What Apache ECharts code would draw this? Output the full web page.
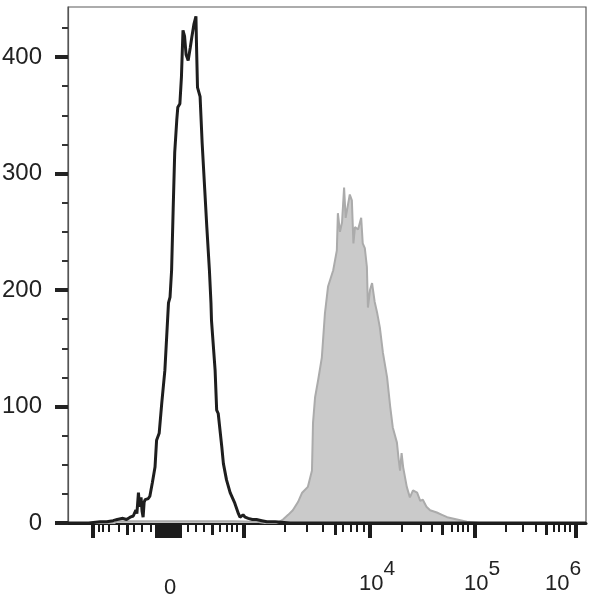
<!DOCTYPE html>
<html>
<head>
<meta charset="utf-8">
<script src="https://cdn.jsdelivr.net/npm/echarts@6/dist/echarts.min.js"></script>
<style>html,body{margin:0;padding:0;background:#fff}#c{width:593px;height:600px}</style>
</head>
<body>
<div id="c"></div>
<script>
// Display channel scale (0..1000) of a biexponential axis
var xMin = 0, xMax = 1000;
var yMin = 0, yMax = 443;

// Control (black, open) histogram: [channel, count]
var controlHist = [[0,0],[40,0],[62,1],[75,1],[87,2],[95,3],[106,4],[113,3],[120,5],[126,6],[131,11],[133,8],[136,26],[138,14],[139,17],[141,22],[143,10],[145,5],[147,18],[149,20],[155,21],[158,23],[163,35],[168,48],[171,71],[176,77],[181,103],[187,131],[194,189],[197,194],[200,217],[203,269],[206,318],[210,346],[212,357],[216,360],[219,383],[222,423],[225,418],[228,402],[232,397],[236,408],[239,417],[243,428],[247,435],[248,412],[250,374],[255,366],[259,326],[264,286],[268,254],[273,217],[276,189],[277,174],[284,131],[287,97],[290,94],[297,65],[300,51],[306,37],[313,26],[322,17],[329,8],[332,5],[338,7],[342,5],[348,4],[356,3],[364,3],[374,2],[384,1],[400,1],[429,0],[1000,0]];

// Stained (grey, filled) histogram: [channel, count]
var stainedHist = [[0,0],[90,0],[95,1.5],[150,1.5],[200,1.5],[260,1.5],[320,1.5],[365,1],[380,0],[402,0],[408,1],[415,3],[425,7],[434,11],[444,18],[452,26],[463,31],[471,45],[473,86],[477,108],[483,123],[490,142],[496,180],[502,203],[512,217],[519,234],[521,266],[525,250],[529,258],[533,288],[536,262],[539,263],[544,282],[548,277],[551,240],[554,254],[560,252],[566,262],[569,240],[573,236],[577,220],[579,185],[583,200],[587,206],[592,190],[597,180],[602,168],[608,146],[616,125],[622,100],[627,82],[635,69],[638,56],[641,45],[644,60],[647,48],[654,31],[660,22],[666,28],[674,26],[680,19],[685,20],[692,14],[699,11],[712,9],[722,7],[732,5],[751,3],[770,1],[795,0],[1000,0]];

// Axis ticks (channel positions) and labels
var yMajorTicks = [0,100,200,300,400];
var yMinorTicks = [25,50,75,125,150,175,225,250,275,325,350,375,425];
var xLongTicks = [47,172,177.5,183,189,195,201,206.5,212,216,340,583,786,981];
var xMediumTicks = [114,278,515,722,923];
var xShortTicks = [59,68,79,97.5,127,143,160,232,247,262,293,307,317,326,419,461,492,531,546,558,571,645,681.5,703,741,753,763,772,846,878,903.5,938,948,959.5,969];
var xLabelValues = [197,583,786,981];
var xLabelTexts = ['{z|0}','{b|10}{s|4}','{b|10}{s|5}','{c|10}{t|6}'];

var chart = echarts.init(document.getElementById('c'), null, {renderer:'canvas'});
var font = 'Liberation Sans, Arial, Helvetica, sans-serif';

function xAxisTicks(vals, len, w, extra) {
  var a = {
    type:'value', min:xMin, max:xMax, position:'bottom', offset:0,
    axisLine:{show:false}, splitLine:{show:false},
    axisLabel:{show:false},
    axisTick:{show:true, customValues:vals, length:len, lineStyle:{color:'#1c1c1c', width:w}}
  };
  if (extra) Object.assign(a, extra);
  return a;
}

var option = {
  animation:false,
  backgroundColor:'#fff',
  grid:{left:68, right:7, top:7, bottom:77, outerBoundsMode:'none', containLabel:false,
    show:true, borderColor:'#5a5a5a', borderWidth:1.2, backgroundColor:'transparent'},
  xAxis:[
    xAxisTicks(xLongTicks, 15, 4, {
      axisLine:{show:true, onZero:false, lineStyle:{color:'#1c1c1c', width:3}},
      axisLabel:{show:true, customValues:xLabelValues, margin:50,
        formatter:function(v){ var i = xLabelValues.indexOf(v); return i>=0 ? xLabelTexts[i] : ''; },
        rich:{
          z:{fontFamily:font, fontSize:22, color:'#222', lineHeight:22, padding:[8,0,0,0]},
          b:{fontFamily:font, fontSize:22, color:'#222', lineHeight:22, verticalAlign:'bottom', padding:[0,0,0,14]},
          s:{fontFamily:font, fontSize:21, color:'#222', lineHeight:21, verticalAlign:'bottom', padding:[0,0,15,0]},
          c:{fontFamily:font, fontSize:22, color:'#222', lineHeight:22, verticalAlign:'bottom'},
          t:{fontFamily:font, fontSize:21, color:'#222', lineHeight:21, verticalAlign:'bottom', padding:[0,26,15,0]}
        }
      }
    }),
    xAxisTicks(xMediumTicks, 12, 3),
    xAxisTicks(xShortTicks, 9, 2)
  ],
  yAxis:[
    {type:'value', min:yMin, max:yMax, position:'left',
      axisLine:{show:true, lineStyle:{color:'#555', width:1.2}},
      splitLine:{show:false},
      axisTick:{show:true, customValues:yMajorTicks, length:13, lineStyle:{color:'#222', width:4}},
      axisLabel:{show:true, customValues:yMajorTicks, margin:26, fontFamily:font, fontSize:24, color:'#222'}
    },
    {type:'value', min:yMin, max:yMax, position:'left',
      axisLine:{show:false}, splitLine:{show:false}, axisLabel:{show:false},
      axisTick:{show:true, customValues:yMinorTicks, length:6, lineStyle:{color:'#333', width:2}}
    }
  ],
  series:[
    {type:'line', name:'stained', xAxisIndex:0, yAxisIndex:0, data:stainedHist, showSymbol:false, symbol:'none', smooth:false,
      lineStyle:{color:'#ababab', width:2}, areaStyle:{color:'#cacaca', opacity:1}, z:2},
    {type:'line', name:'control', xAxisIndex:0, yAxisIndex:0, data:controlHist, showSymbol:false, symbol:'none', smooth:false,
      lineStyle:{color:'#1e1e1e', width:3}, z:3}
  ]
};
chart.setOption(option);
</script>
</body>
</html>
